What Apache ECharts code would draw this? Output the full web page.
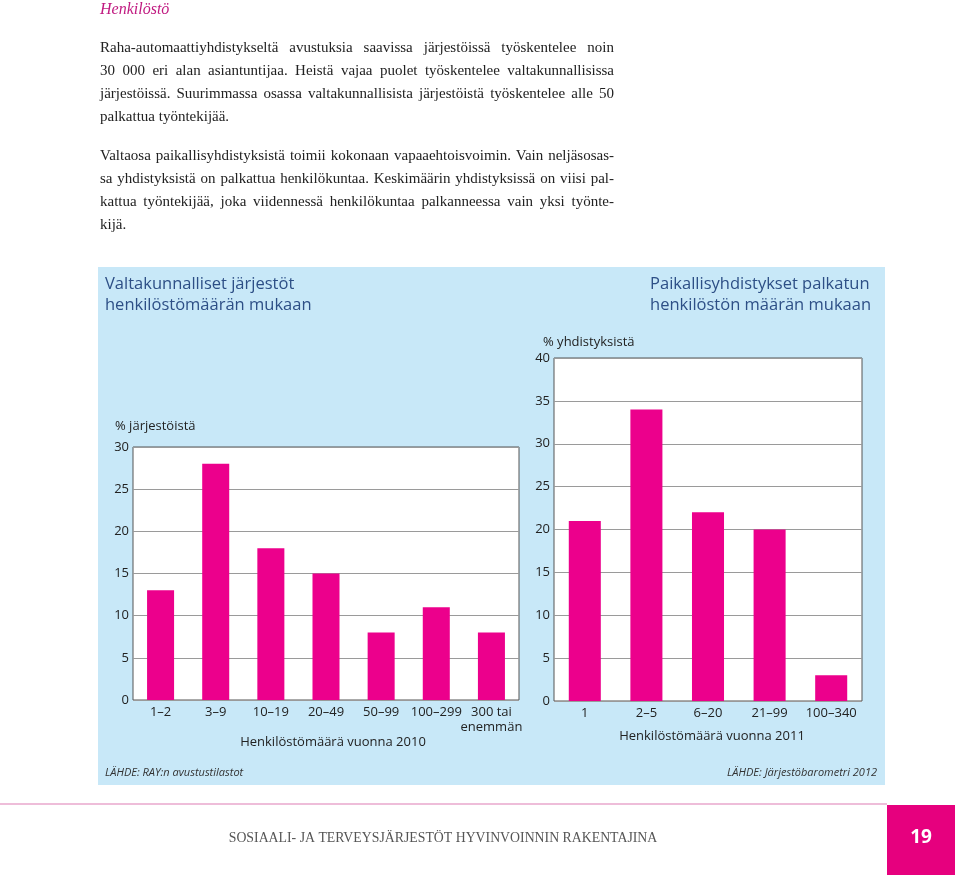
<!DOCTYPE html>
<html>
<head>
<meta charset="utf-8">
<script src="https://cdn.jsdelivr.net/npm/echarts@6/dist/echarts.min.js"></script>
<style>
html,body{margin:0;padding:0;background:#fff;width:960px;height:880px;overflow:hidden;}
#chart{position:absolute;left:0;top:0;width:960px;height:880px;}
.para{position:absolute;left:100px;width:514px;font-family:"Liberation Serif","DejaVu Serif",serif;font-size:15px;color:#222;}
.para div{height:23px;line-height:23px;white-space:nowrap;text-align:justify;text-align-last:justify;}
.para div.last{text-align-last:left;}
</style>
</head>
<body>
<div id="chart"></div>
<div class="para" style="top:36px">
<div>Raha-automaattiyhdistykseltä avustuksia saavissa järjestöissä työskentelee noin</div>
<div>30 000 eri alan asiantuntijaa. Heistä vajaa puolet työskentelee valtakunnallisissa</div>
<div>järjestöissä. Suurimmassa osassa valtakunnallisista järjestöistä työskentelee alle 50</div>
<div class="last">palkattua työntekijää.</div>
</div>
<div class="para" style="top:144px">
<div>Valtaosa paikallisyhdistyksistä toimii kokonaan vapaaehtoisvoimin. Vain neljäsosas-</div>
<div>sa yhdistyksistä on palkattua henkilökuntaa. Keskimäärin yhdistyksissä on viisi pal-</div>
<div>kattua työntekijää, joka viidennessä henkilökuntaa palkanneessa vain yksi työnte-</div>
<div class="last">kijä.</div>
</div>
<script>
// ---- data ----
const leftCategories = ['1–2', '3–9', '10–19', '20–49', '50–99', '100–299', '300 tai\nenemmän'];
const leftValues = [13, 28, 18, 15, 8, 11, 8];
const leftTicks = {min: 0, max: 30, interval: 5};
const rightCategories = ['1', '2–5', '6–20', '21–99', '100–340'];
const rightValues = [21, 34, 22, 20, 3];
const rightTicks = {min: 0, max: 40, interval: 5};

const MAGENTA = '#ec008c';
const TITLE_BLUE = '#2d4f86';
const SANS = '"Open Sans","Noto Sans",sans-serif';
const SERIF = '"Liberation Serif","DejaVu Serif",serif';

const chart = echarts.init(document.getElementById('chart'), null, {renderer: 'canvas'});

function yAxisCfg(t, idx) {
  return {
    type: 'value', gridIndex: idx, min: t.min, max: t.max, interval: t.interval,
    axisLine: {show: false}, axisTick: {show: false},
    axisLabel: {color: '#222', fontSize: 13, fontFamily: SANS, margin: 4},
    splitLine: {lineStyle: {color: '#9a9a9a', width: 1}}
  };
}
function xAxisCfg(cats, idx, name, pad) {
  return {
    type: 'category', gridIndex: idx, data: cats,
    axisLine: {show: false}, axisTick: {show: false},
    axisLabel: {color: '#222', fontSize: 13, fontFamily: SANS, margin: 5, lineHeight: 15, interval: 0},
    name: name, nameLocation: 'middle', nameGap: 29,
    nameTextStyle: {color: '#222', fontSize: 13, fontFamily: SANS, padding: pad}
  };
}

const option = {
  animation: false,
  graphic: [
    // heading
    {type: 'text', left: 100, top: 2, style: {text: 'Henkilöstö', fill: '#c01a80', font: 'italic 16px ' + SERIF}},
    // blue panel
    {type: 'rect', shape: {x: 98, y: 267, width: 787, height: 518}, style: {fill: '#c8e8f8'}, z: -10},
    {type: 'text', left: 105, top: 274, style: {text: 'Valtakunnalliset järjestöt\nhenkilöstömäärän mukaan', fill: TITLE_BLUE, font: '16.5px ' + SANS, lineHeight: 21}},
    {type: 'text', right: 89, top: 274, style: {text: 'Paikallisyhdistykset palkatun\nhenkilöstön määrän mukaan', fill: TITLE_BLUE, font: '16.5px ' + SANS, lineHeight: 21, align: 'right'}},
    {type: 'text', left: 115, top: 420, style: {text: '% järjestöistä', fill: '#222', font: '13px ' + SANS}},
    {type: 'text', left: 543, top: 336, style: {text: '% yhdistyksistä', fill: '#222', font: '13px ' + SANS}},
    {type: 'text', left: 105, top: 767, style: {text: 'LÄHDE: RAY:n avustustilastot', fill: '#333', font: 'italic 11px ' + SANS}},
    {type: 'text', right: 83, top: 767, style: {text: 'LÄHDE: Järjestöbarometri 2012', fill: '#333', font: 'italic 11px ' + SANS, align: 'right'}},
    // footer
    {type: 'line', shape: {x1: 0, y1: 804, x2: 887, y2: 804}, style: {stroke: '#e9a7cd', lineWidth: 1.5}},
    {type: 'rect', shape: {x: 887, y: 805, width: 68, height: 70}, style: {fill: '#e6007e'}},
    {type: 'text', x: 921, y: 838, style: {text: '19', fill: '#fff', font: 'bold 19px ' + SANS, align: 'center', verticalAlign: 'middle'}},
    {type: 'text', x: 443, y: 838, style: {text: 'SOSIAALI- JA TERVEYSJÄRJESTÖT HYVINVOINNIN RAKENTAJINA', fill: '#555', font: '13.8px ' + SERIF, align: 'center', verticalAlign: 'middle'}}
  ],
  grid: [
    {left: 133, top: 447, width: 386, height: 253, show: true, backgroundColor: '#fff', borderColor: '#555', borderWidth: 1, containLabel: false},
    {left: 554, top: 358, width: 308, height: 343, show: true, backgroundColor: '#fff', borderColor: '#555', borderWidth: 1, containLabel: false}
  ],
  xAxis: [
    xAxisCfg(leftCategories, 0, 'Henkilöstömäärä vuonna 2010', [0, 0, 0, 14]),
    xAxisCfg(rightCategories, 1, 'Henkilöstömäärä vuonna 2011', [0, 0, 0, 8])
  ],
  yAxis: [yAxisCfg(leftTicks, 0), yAxisCfg(rightTicks, 1)],
  series: [
    {type: 'bar', xAxisIndex: 0, yAxisIndex: 0, data: leftValues, barWidth: '49%', itemStyle: {color: MAGENTA}},
    {type: 'bar', xAxisIndex: 1, yAxisIndex: 1, data: rightValues, barWidth: '52%', itemStyle: {color: MAGENTA}}
  ]
};
chart.setOption(option);
</script>
</body>
</html>
